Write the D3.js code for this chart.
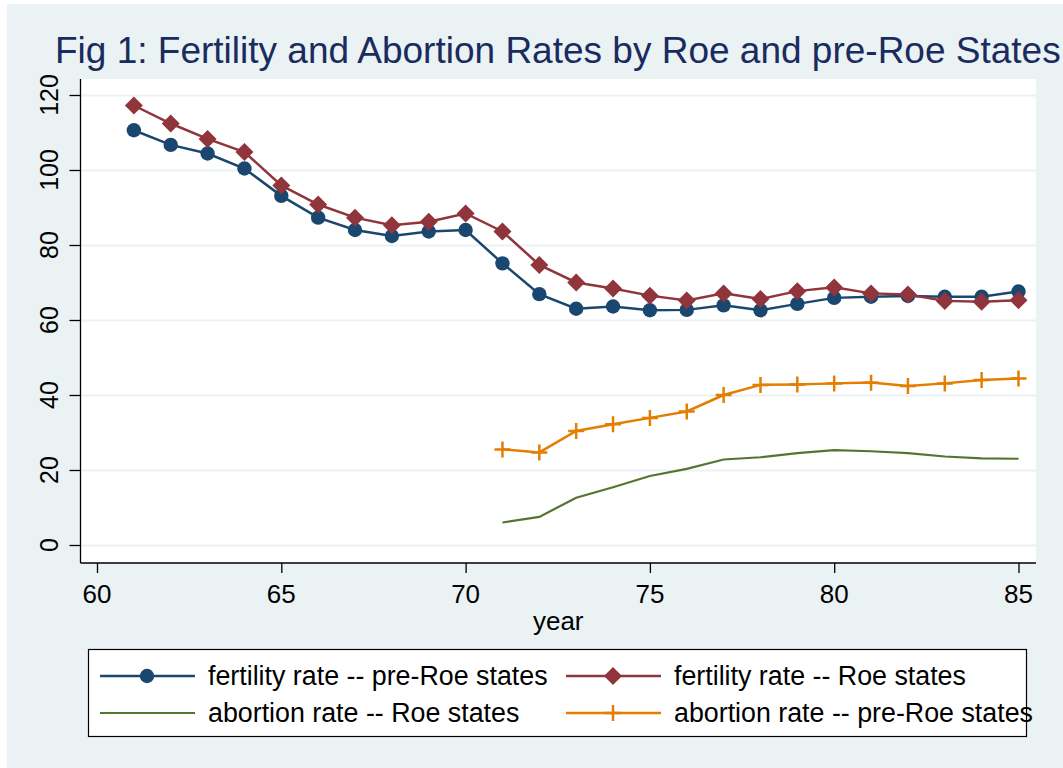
<!DOCTYPE html>
<html>
<head>
<meta charset="utf-8">
<script src="https://cdn.jsdelivr.net/npm/d3@7"></script>
<style>
  body { margin: 0; background: #fff; }
  text { font-family: "Liberation Sans", Arial, sans-serif; }
</style>
</head>
<body>
<div id="chart"></div>
<script>
var years = [61,62,63,64,65,66,67,68,69,70,71,72,73,74,75,76,77,78,79,80,81,82,83,84,85];
var fertPreRoe = [110.6,106.7,104.4,100.4,93.1,87.3,84.0,82.4,83.6,84.0,75.1,66.9,63.0,63.6,62.6,62.7,63.9,62.6,64.3,65.9,66.2,66.4,66.2,66.2,67.6];
var fertRoe = [117.2,112.4,108.3,104.8,95.9,90.8,87.3,85.3,86.2,88.4,83.6,74.7,70.0,68.4,66.5,65.2,67.1,65.6,67.7,68.7,67.1,66.8,65.1,64.9,65.3];
var abortYears = [71,72,73,74,75,76,77,78,79,80,81,82,83,84,85];
var abortRoe = [6.0,7.5,12.6,15.4,18.4,20.3,22.8,23.4,24.5,25.3,25.0,24.5,23.6,23.1,23.0];
var abortPreRoe = [25.5,24.7,30.4,32.2,33.9,35.6,40.0,42.7,42.8,43.1,43.3,42.4,43.1,44.0,44.4];
var xTicks = [60,65,70,75,80,85];
var yTicks = [0,20,40,60,80,100,120];
var legendLabels = ["fertility rate -- pre-Roe states","fertility rate -- Roe states","abortion rate -- Roe states","abortion rate -- pre-Roe states"];

var navy = "#1a476f", maroon = "#90353b", green = "#55752f", orange = "#e37e00";

var svg = d3.select("#chart").append("svg")
    .attr("width", 1063)
    .attr("height", 768);

// outer background
svg.append("rect").attr("x", 7).attr("y", 4).attr("width", 1056).attr("height", 764).attr("fill", "#eaf2f3");

var plot = {left: 80.5, right: 1036, top: 79, bottom: 563};

var x = d3.scaleLinear().domain([60, 85]).range([97, 1018.5]);
var y = d3.scaleLinear().domain([0, 120]).range([545, 95]);

svg.append("rect")
    .attr("x", plot.left).attr("y", plot.top)
    .attr("width", plot.right - plot.left).attr("height", plot.bottom - plot.top)
    .attr("fill", "#fff");

// gridlines
svg.append("g")
    .attr("transform", "translate(" + plot.left + ",0)")
    .call(d3.axisLeft(y).tickValues(yTicks).tickSize(-(plot.right - plot.left)).tickFormat(""))
    .call(function(g){ g.select(".domain").remove(); })
    .selectAll("line").attr("stroke", "#eaf2f3").attr("stroke-width", 2);

// y axis
var ya = svg.append("g")
    .attr("transform", "translate(" + plot.left + ",0)")
    .call(d3.axisLeft(y).tickValues(yTicks).tickSize(11).tickFormat(""));
ya.select(".domain").attr("d", "M0," + plot.top + "V" + plot.bottom).attr("stroke", "#000").attr("stroke-width", 1.3);
ya.selectAll("line").attr("stroke", "#000").attr("stroke-width", 1.3);

svg.append("g").selectAll("text")
    .data(yTicks)
    .enter().append("text")
    .attr("transform", function(d){ return "translate(58," + y(d) + ")rotate(-90)"; })
    .attr("text-anchor", "middle")
    .attr("font-size", 25)
    .attr("fill", "#000")
    .text(function(d){ return d; });

// x axis
var xa = svg.append("g")
    .attr("transform", "translate(0," + plot.bottom + ")")
    .call(d3.axisBottom(x).tickValues(xTicks).tickSize(10).tickFormat(""));
xa.select(".domain").attr("d", "M" + plot.left + ",0H" + plot.right).attr("stroke", "#000").attr("stroke-width", 1.3);
xa.selectAll("line").attr("stroke", "#000").attr("stroke-width", 1.3);

svg.append("g").selectAll("text")
    .data(xTicks)
    .enter().append("text")
    .attr("x", function(d){ return x(d); })
    .attr("y", 603)
    .attr("text-anchor", "middle")
    .attr("font-size", 26)
    .attr("fill", "#000")
    .text(function(d){ return d; });

svg.append("text")
    .attr("x", (plot.left + plot.right) / 2)
    .attr("y", 630)
    .attr("text-anchor", "middle")
    .attr("font-size", 26)
    .attr("fill", "#000")
    .text("year");

// title
svg.append("text")
    .attr("x", 55)
    .attr("y", 63)
    .attr("font-size", 37)
    .attr("fill", "#1a2b5f")
    .text("Fig 1: Fertility and Abortion Rates by Roe and pre-Roe States");

// series
function pts(xs, ys){ return xs.map(function(d, i){ return {year: d, v: ys[i]}; }); }
var line = d3.line()
    .x(function(d){ return x(d.year); })
    .y(function(d){ return y(d.v); });

function drawCircles(data, color){
  svg.append("g").selectAll("circle").data(data).enter().append("circle")
      .attr("cx", function(d){ return x(d.year); })
      .attr("cy", function(d){ return y(d.v); })
      .attr("r", 7.2)
      .attr("fill", color);
}
function drawDiamonds(data, color){
  svg.append("g").selectAll("path").data(data).enter().append("path")
      .attr("transform", function(d){ return "translate(" + x(d.year) + "," + y(d.v) + ")"; })
      .attr("d", "M0,-9L9,0L0,9L-9,0Z")
      .attr("fill", color);
}
function drawPlus(data, color){
  svg.append("g").selectAll("path").data(data).enter().append("path")
      .attr("transform", function(d){ return "translate(" + x(d.year) + "," + y(d.v) + ")"; })
      .attr("d", "M-8,0H8M0,-8V8")
      .attr("stroke", color)
      .attr("stroke-width", 2.5);
}

var s1 = pts(years, fertPreRoe), s2 = pts(years, fertRoe);
var s3 = pts(abortYears, abortRoe), s4 = pts(abortYears, abortPreRoe);

svg.append("path").datum(s3).attr("d", line).attr("fill", "none").attr("stroke", green).attr("stroke-width", 2.2);
svg.append("path").datum(s4).attr("d", line).attr("fill", "none").attr("stroke", orange).attr("stroke-width", 2.5);
drawPlus(s4, orange);
svg.append("path").datum(s1).attr("d", line).attr("fill", "none").attr("stroke", navy).attr("stroke-width", 2.5);
drawCircles(s1, navy);
svg.append("path").datum(s2).attr("d", line).attr("fill", "none").attr("stroke", maroon).attr("stroke-width", 2.5);
drawDiamonds(s2, maroon);

// legend
svg.append("rect")
    .attr("x", 88.5).attr("y", 649.5).attr("width", 938).attr("height", 87)
    .attr("fill", "#fff").attr("stroke", "#000").attr("stroke-width", 1.2);

var keys = [
  {x: 100, y: 676, color: navy, mark: "circle"},
  {x: 566, y: 676, color: maroon, mark: "diamond"},
  {x: 100, y: 713, color: green, mark: "none"},
  {x: 566, y: 713, color: orange, mark: "plus"}
];
keys.forEach(function(k, i){
  var g = svg.append("g").attr("transform", "translate(" + k.x + "," + k.y + ")");
  g.append("line").attr("x1", 0).attr("x2", 95).attr("y1", 0).attr("y2", 0)
      .attr("stroke", k.color).attr("stroke-width", k.mark == "none" ? 2.2 : 2.5);
  if (k.mark == "circle") g.append("circle").attr("cx", 47).attr("r", 7.2).attr("fill", k.color);
  if (k.mark == "diamond") g.append("path").attr("d", "M47,-9L56,0L47,9L38,0Z").attr("fill", k.color);
  if (k.mark == "plus") g.append("path").attr("d", "M39,0H55M47,-8V8").attr("stroke", k.color).attr("stroke-width", 2.5);
  g.append("text").attr("x", 108).attr("y", 9).attr("font-size", 26.8).attr("fill", "#000").text(legendLabels[i]);
});
</script>
</body>
</html>
